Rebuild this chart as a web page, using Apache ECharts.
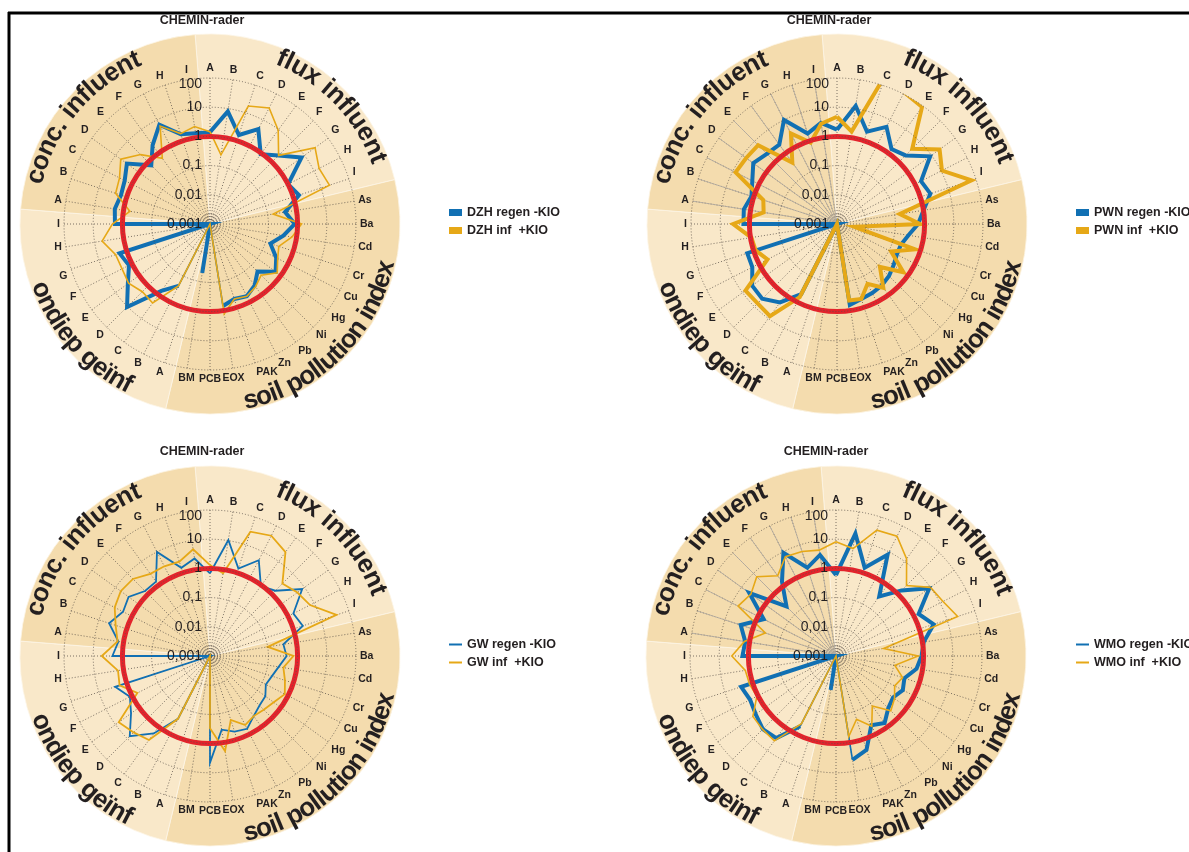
<!DOCTYPE html>
<html>
<head>
<meta charset="utf-8">
<script src="https://cdn.jsdelivr.net/npm/echarts@6/dist/echarts.min.js"></script>
<style>
  html, body { margin: 0; background: #fff; }
  #chart { width: 1189px; height: 852px; }
</style>
</head>
<body>
<div id="chart"></div>
<script>
// categories round the circle, clockwise from the top
const categories = ['A','B','C','D','E','F','G','H','I',
  'As','Ba','Cd','Cr','Cu','Hg','Ni','Pb','Zn','PAK','EOX','PCB','BM',
  'A','B','C','D','E','F','G','H','I',
  'A','B','C','D','E','F','G','H','I'];
const groupNames = ['flux influent', 'soil pollution index', 'ondiep geïnf', 'conc. influent'];
const groupSizes = [9, 13, 9, 9];
const radialTicks = [0.001, 0.01, 0.1, 1, 10, 100];
const refLevel = [1];

// series values (same order as categories): flux | soil | ondiep | conc
const dzhRegen = [1.4,8,1.6,4.4,0.9,2.1,7.5,1.0,1.6,
  0.4,0.8,0.35,0.15,0.35,0.6,0.2,0.4,0.6,0.5,0.7,0.001,0.05,
  0.001,0.24,0.68,10.4,3.0,1.3,1.8,0.001,1.8,
  2.0,1.6,1.9,3.3,0.7,2.2,6.6,1.7,1.4];
const dzhInf   = [1.45,0.25,17.7,29,9.4,2.1,28,15.6,20,
  0.155,1.37,0.7,0.3,0.4,0.7,0.3,0.45,0.6,0.5,1.3,0.001,0.001,
  0.001,0.24,2.2,1.9,2.8,2.4,2.5,5.5,2.2,
  0.6,2.5,3,6,2.3,0.6,5.8,1.8,2.4];
const pwnRegen = [1.7,12.4,2.1,5.4,1.5,2.1,8.8,1.7,2.3,
  1.0,0.6,0.3,0.2,0.2,0.25,0.33,0.4,0.45,0.5,0.64,0.001,0.001,
  0.001,0.5,2.1,4.2,3.9,1.8,1.7,0.001,1.6,
  1.7,1.2,1.8,3.5,2.5,2.3,10,1.8,3.2];
const pwnInf   = [4.7,1.6,230,115,90,4.4,22,10.8,70,
  0.15,0.7,0.004,0.65,0.12,0.65,0.12,0.5,0.2,0.5,0.45,0.001,0.001,
  0.001,0.65,8,7,7.5,0.47,0.85,0.93,3.6,
  0.35,0.45,7.9,7,6.6,0.4,3,0.85,3];
const gwRegen  = [0.68,10.5,1.4,4.8,0.92,1.45,8,1.6,2.2,
  0.35,0.42,0.24,0.17,0.14,0.22,0.25,0.35,0.63,0.53,0.36,4.5,0.001,
  0.001,0.26,1.9,7.7,2.2,1.2,2.6,0.001,2.2,
  1.5,4.3,2.2,2.8,1.4,1.4,10,1.5,2.4];
const gwInf    = [1.3,0.74,30,42,25,3.2,5,7,36,
  0.1,0.72,0.35,0.5,0.75,0.5,0.4,0.35,0.45,0.2,2.0,0.3,0.001,
  0.001,0.26,3.6,5,7.3,0.62,1.8,1.55,5.1,
  1.6,2.5,4.6,6,5.4,3,2.8,2.5,5];
const wmoRegen = [0.59,17.6,1.5,7.8,0.33,1.5,8.9,1.5,3.3,
  1.1,0.85,0.62,0.29,0.37,0.26,0.34,0.68,0.46,2.4,4,0.001,0.015,
  0.001,0.5,3,3.5,2.5,2,2.6,0.001,1.6,
  1.4,2.7,0.6,4.7,0.25,1.4,9.3,1.5,3.2];
const wmoInf   = [8.2,5.3,34,40,13,2.6,10,13,24,
  0.045,0.65,0.11,0.25,0.18,0.3,0.45,0.13,0.5,0.19,0.62,0.001,0.001,
  0.001,0.4,3.9,3.6,3.3,1.1,1.3,1.4,3.7,
  1.5,0.35,5.8,4,6.9,2.5,6.6,5.8,4.7];

const BLUE = '#1170B3', GOLD = '#E6A817', RED = '#E3232B', INK = '#231F20';
const LIGHT = '#F9E8C9', DARK = '#F4DCAE';
const FONT = '"Liberation Sans", Arial, sans-serif';

// thinSegs: segments (start index) where the thick blue line is drawn thin (EOX-PCB, ondiep A-B)
const panels = [
  { center: [210, 224], titleX: 202, titleY: 14, legend: [449, 206], icon: 'rect', solidSpokes: false,
    names: ['DZH regen -KIO', 'DZH inf  +KIO'], values: [dzhRegen, dzhInf], widths: [4, 1.6], thinSegs: [19, 22] },
  { center: [837, 224], titleX: 829, titleY: 14, legend: [1076, 206], icon: 'rect', solidSpokes: true,
    names: ['PWN regen -KIO', 'PWN inf  +KIO'], values: [pwnRegen, pwnInf], widths: [4, 4], thinSegs: [] },
  { center: [210, 656], titleX: 202, titleY: 445, legend: [449, 638], icon: 'line', solidSpokes: false,
    names: ['GW regen -KIO', 'GW inf  +KIO'], values: [gwRegen, gwInf], widths: [1.8, 1.8], thinSegs: [] },
  { center: [836, 656], titleX: 826, titleY: 445, legend: [1076, 638], icon: 'line', solidSpokes: true,
    names: ['WMO regen -KIO', 'WMO inf  +KIO'], values: [wmoRegen, wmoInf], widths: [4, 1.6], thinSegs: [19, 22] }
];

// curved group label layout: [start, end] angle in degrees clockwise from top
const labelSpans = [[22, 70], [169, 102], [251, 206], [283, 337]];

const measure = document.createElement('canvas').getContext('2d');
const labelFont = 'bold 26px ' + FONT;
measure.font = labelFont;

function renderGroupLabel(params, api) {
  const cs = params.coordSys;
  const gi = params.dataIndex;
  const text = groupNames[gi];
  const span = labelSpans[gi];
  const flip = span[1] < span[0];
  const R = cs.r + (flip ? 35 : 34);
  const total = measure.measureText(text).width;
  const children = [];
  let x = 0;
  for (const ch of text) {
    const w = measure.measureText(ch).width;
    const deg = span[0] + (span[1] - span[0]) * (x + w / 2) / total;
    const a = deg * Math.PI / 180;
    children.push({
      type: 'text',
      x: cs.cx + R * Math.sin(a),
      y: cs.cy - R * Math.cos(a),
      rotation: flip ? Math.PI - a : -a,
      style: { text: ch, font: labelFont, fill: INK, align: 'center', verticalAlign: 'middle' }
    });
    x += w;
  }
  return { type: 'group', children };
}

function renderRefCircle(params, api) {
  const cs = params.coordSys;
  const p = api.coord([api.value(0), 0]);
  const r = Math.hypot(p[0] - cs.cx, p[1] - cs.cy);
  return { type: 'circle', shape: { cx: cs.cx, cy: cs.cy, r },
    style: { fill: 'none', stroke: RED, lineWidth: 5 } };
}

// solid spokes over the 'conc. influent' sector
function renderSpoke(params, api) {
  const cs = params.coordSys;
  const p = api.coord([api.value(0), api.value(1)]);
  return { type: 'line', shape: { x1: cs.cx, y1: cs.cy, x2: p[0], y2: p[1] },
    style: { stroke: '#b3aba0', lineWidth: 0.9 } };
}

const polar = [], angleAxis = [], radiusAxis = [], series = [], legend = [], title = [];
const dotted = { color: '#5b5249', width: 0.8, type: [1, 2] };
const tickText = { fontSize: 14, color: INK, fontFamily: FONT };
const concStart = groupSizes[0] + groupSizes[1] + groupSizes[2];

panels.forEach((p, i) => {
  const main = i * 2, tiny = i * 2 + 1;
  polar.push({ center: p.center, radius: 146 }, { center: p.center, radius: 10 });
  angleAxis.push({
    polarIndex: main, type: 'value', min: 0, max: categories.length, interval: 1,
    startAngle: 90, clockwise: true, z: 1,
    axisLine: { show: false }, axisTick: { show: false },
    axisLabel: { margin: 4, fontSize: 10.5, fontWeight: 'bold', color: INK, fontFamily: FONT,
      formatter: v => categories[v] || '' },
    splitLine: { lineStyle: dotted }
  }, {
    polarIndex: tiny, type: 'value', min: 0, max: 360, show: false,
    axisLine: { show: false }, axisLabel: { show: false }, splitLine: { show: false }
  });
  radiusAxis.push({
    polarIndex: main, type: 'log', logBase: 10, min: radialTicks[0], max: radialTicks[radialTicks.length - 1],
    z: 5, axisLine: { show: false }, axisTick: { show: false },
    axisLabel: Object.assign({ margin: 8 }, tickText, {
      formatter: v => {
        const s = String(+v.toPrecision(3)).replace('.', ',');
        return v >= radialTicks[radialTicks.length - 1] ? '{low|' + s + '}' : s;
      },
      rich: { low: Object.assign({ padding: [13, 0, 0, 0] }, tickText) }
    }),
    splitLine: { lineStyle: dotted }
  }, {
    polarIndex: tiny, type: 'value', min: 0, max: 4, interval: 1, z: 1,
    axisLine: { show: false }, axisTick: { show: false }, axisLabel: { show: false },
    splitLine: { lineStyle: { color: '#5b5249', width: 0.7, type: [1, 1] } }
  });

  series.push({
    type: 'pie', silent: true, z: 0, center: p.center, radius: 190,
    startAngle: 90 + 180 / categories.length, clockwise: true,
    label: { show: false }, labelLine: { show: false },
    itemStyle: { borderColor: '#fdf5e6', borderWidth: 0.8 },
    data: groupSizes.map((n, k) => ({ value: n, name: groupNames[k],
      itemStyle: { color: k % 2 ? DARK : LIGHT } }))
  });

  if (p.solidSpokes) {
    series.push({
      type: 'custom', coordinateSystem: 'polar', polarIndex: main, z: 2, silent: true,
      data: categories.slice(concStart).map((c, k) => [radialTicks[radialTicks.length - 1], concStart + k]),
      renderItem: renderSpoke
    });
  }

  p.names.forEach((name, k) => {
    const vals = p.values[k];
    const color = k ? GOLD : BLUE;
    const thin = k === 0 ? p.thinSegs : [];
    const data = [];
    vals.forEach((v, j) => {
      data.push([v, j]);
      if (thin.includes(j)) data.push(['-', j + 0.5]);
    });
    data.push([vals[0], vals.length]);
    series.push({
      type: 'line', name, coordinateSystem: 'polar', polarIndex: main,
      data, symbol: 'none', clip: false, z: 3, silent: true,
      lineStyle: { color, width: p.widths[k], join: 'miter' },
      itemStyle: { color }
    });
    if (thin.length) {
      const thinData = [];
      thin.forEach(s => {
        thinData.push([vals[s], s], [vals[s + 1], s + 1], ['-', s + 1.5]);
      });
      series.push({
        type: 'line', coordinateSystem: 'polar', polarIndex: main,
        data: thinData, symbol: 'none', clip: false, z: 3, silent: true,
        lineStyle: { color, width: 1.6 }
      });
    }
  });

  series.push({
    type: 'custom', coordinateSystem: 'polar', polarIndex: main, z: 4, silent: true,
    data: refLevel.map(v => [v, 0]), renderItem: renderRefCircle
  }, {
    type: 'custom', coordinateSystem: 'polar', polarIndex: main, z: 2, silent: true,
    data: groupNames.map((n, k) => [radialTicks[0], k]), renderItem: renderGroupLabel
  });

  legend.push({
    left: p.legend[0], top: p.legend[1], orient: 'vertical',
    itemWidth: 13, itemHeight: p.icon === 'rect' ? 7 : 2, itemGap: 5, padding: 0,
    selectedMode: false,
    textStyle: { fontSize: 12.5, fontWeight: 'bold', color: INK, fontFamily: FONT },
    data: p.names.map(n => ({ name: n, icon: 'rect' }))
  });

  title.push({
    text: 'CHEMIN-rader', left: p.titleX, top: p.titleY, textAlign: 'center', padding: 0,
    textStyle: { fontSize: 12.5, fontWeight: 'bold', color: INK, fontFamily: FONT }
  });
});

const chart = echarts.init(document.getElementById('chart'));
chart.setOption({
  animation: false,
  backgroundColor: '#fff',
  title, polar, angleAxis, radiusAxis, legend, series,
  graphic: [
    { type: 'line', shape: { x1: 8, y1: 13, x2: 1189, y2: 13 }, style: { stroke: '#000', lineWidth: 3 } },
    { type: 'line', shape: { x1: 9, y1: 12, x2: 9, y2: 852 }, style: { stroke: '#000', lineWidth: 3 } }
  ]
});
</script>
</body>
</html>
